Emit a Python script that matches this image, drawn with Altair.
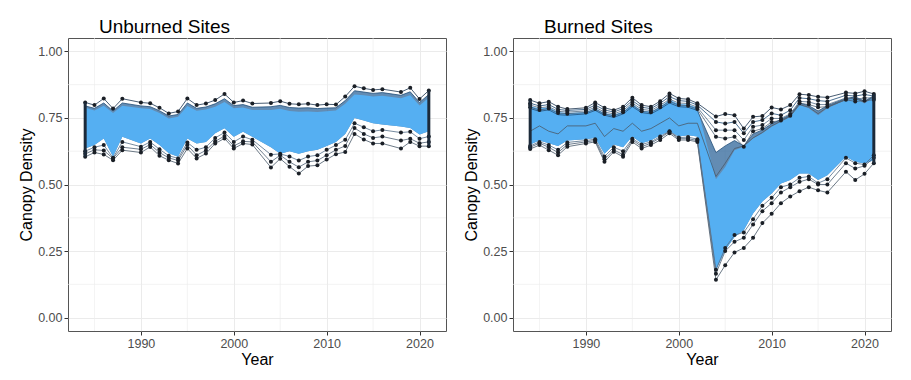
import altair as alt
import pandas as pd

# ---------------- data ----------------
years = [1984, 1985, 1986, 1987, 1988, 1990, 1991, 1992, 1993, 1994, 1995, 1996,
         1997, 1998, 1999, 2000, 2001, 2002, 2004, 2005, 2006, 2007, 2008, 2009,
         2010, 2011, 2012, 2013, 2014, 2015, 2016, 2018, 2019, 2020, 2021]

# Unburned sites
u_top = [0.808, 0.798, 0.823, 0.785, 0.822, 0.808, 0.805, 0.788, 0.767, 0.774, 0.823, 0.798,
         0.804, 0.817, 0.840, 0.808, 0.815, 0.804, 0.806, 0.813, 0.803, 0.801, 0.803, 0.798,
         0.801, 0.800, 0.830, 0.869, 0.861, 0.855, 0.858, 0.847, 0.863, 0.821, 0.853]
u_nav = [0.795, 0.786, 0.806, 0.776, 0.806, 0.795, 0.792, 0.777, 0.757, 0.763, 0.806, 0.786,
         0.791, 0.803, 0.822, 0.796, 0.800, 0.790, 0.792, 0.797, 0.789, 0.787, 0.788, 0.785,
         0.787, 0.788, 0.815, 0.852, 0.847, 0.842, 0.845, 0.835, 0.848, 0.808, 0.838]
u_band_hi = [0.788, 0.778, 0.796, 0.768, 0.796, 0.786, 0.783, 0.768, 0.748, 0.754, 0.795, 0.777,
             0.782, 0.792, 0.810, 0.786, 0.789, 0.780, 0.780, 0.784, 0.776, 0.773, 0.774, 0.772,
             0.775, 0.778, 0.803, 0.838, 0.835, 0.830, 0.833, 0.824, 0.835, 0.797, 0.826]
u_band_lo = [0.635, 0.648, 0.673, 0.604, 0.679, 0.654, 0.673, 0.648, 0.617, 0.604, 0.673, 0.654,
             0.660, 0.692, 0.711, 0.679, 0.698, 0.679, 0.640, 0.615, 0.625, 0.615, 0.625, 0.630,
             0.645, 0.660, 0.690, 0.750, 0.740, 0.730, 0.725, 0.718, 0.712, 0.688, 0.700]
u_low1 = [0.604, 0.620, 0.613, 0.591, 0.629, 0.620, 0.641, 0.608, 0.591, 0.579, 0.635, 0.598,
          0.616, 0.654, 0.673, 0.635, 0.654, 0.650, 0.564, 0.597, 0.567, 0.541, 0.569, 0.572,
          0.594, 0.614, 0.622, 0.690, 0.669, 0.654, 0.654, 0.635, 0.660, 0.644, 0.644]
u_low2 = [0.615, 0.630, 0.628, 0.598, 0.640, 0.632, 0.650, 0.620, 0.600, 0.590, 0.648, 0.610,
          0.628, 0.662, 0.682, 0.645, 0.662, 0.660, 0.585, 0.610, 0.585, 0.565, 0.585, 0.590,
          0.610, 0.630, 0.645, 0.712, 0.690, 0.675, 0.680, 0.665, 0.672, 0.655, 0.660]
u_low3 = [0.625, 0.640, 0.648, 0.600, 0.660, 0.642, 0.660, 0.632, 0.608, 0.598, 0.658, 0.630,
          0.640, 0.675, 0.695, 0.660, 0.680, 0.668, 0.612, 0.615, 0.605, 0.590, 0.605, 0.610,
          0.630, 0.648, 0.668, 0.730, 0.715, 0.700, 0.705, 0.695, 0.698, 0.672, 0.680]

# Burned sites
b_top = [0.817, 0.805, 0.811, 0.792, 0.783, 0.788, 0.808, 0.788, 0.779, 0.792, 0.826, 0.798,
         0.792, 0.813, 0.842, 0.823, 0.820, 0.805, 0.755, 0.765, 0.760, 0.710, 0.754, 0.757,
         0.789, 0.782, 0.798, 0.839, 0.836, 0.829, 0.827, 0.845, 0.842, 0.850, 0.840]
b_hi2 = [0.805, 0.795, 0.800, 0.782, 0.778, 0.782, 0.798, 0.780, 0.772, 0.785, 0.815, 0.790,
         0.785, 0.805, 0.830, 0.815, 0.812, 0.798, 0.735, 0.729, 0.735, 0.692, 0.735, 0.742,
         0.767, 0.760, 0.779, 0.825, 0.822, 0.815, 0.812, 0.835, 0.832, 0.838, 0.832]
b_hi3 = [0.798, 0.788, 0.792, 0.775, 0.772, 0.776, 0.790, 0.772, 0.765, 0.778, 0.806, 0.782,
         0.778, 0.797, 0.820, 0.806, 0.804, 0.790, 0.704, 0.704, 0.704, 0.667, 0.717, 0.723,
         0.748, 0.748, 0.765, 0.812, 0.810, 0.800, 0.800, 0.825, 0.820, 0.825, 0.825]
b_hi4 = [0.790, 0.780, 0.785, 0.768, 0.766, 0.770, 0.783, 0.765, 0.758, 0.771, 0.798, 0.775,
         0.771, 0.790, 0.812, 0.798, 0.796, 0.783, 0.679, 0.673, 0.679, 0.642, 0.700, 0.710,
         0.735, 0.740, 0.758, 0.805, 0.800, 0.790, 0.792, 0.818, 0.812, 0.815, 0.818]
b_nav = [0.785, 0.775, 0.780, 0.762, 0.760, 0.765, 0.778, 0.760, 0.752, 0.765, 0.792, 0.770,
         0.765, 0.784, 0.806, 0.792, 0.790, 0.778, 0.620, 0.645, 0.665, 0.645, 0.690, 0.705,
         0.728, 0.744, 0.762, 0.806, 0.796, 0.776, 0.796, 0.823, 0.829, 0.813, 0.833]
b_nav2 = [0.700, 0.720, 0.700, 0.690, 0.720, 0.720, 0.730, 0.680, 0.710, 0.700, 0.730, 0.700,
          0.710, 0.730, 0.750, 0.720, 0.730, 0.730, 0.530, 0.580, 0.635, 0.645, 0.675, 0.695,
          0.720, 0.738, 0.756, 0.800, 0.790, 0.766, 0.790, 0.820, 0.826, 0.808, 0.830]
b_band_hi = [0.795, 0.785, 0.790, 0.772, 0.768, 0.772, 0.786, 0.768, 0.762, 0.774, 0.802, 0.778,
             0.774, 0.792, 0.818, 0.802, 0.800, 0.788, 0.520, 0.566, 0.629, 0.642, 0.673, 0.692,
             0.717, 0.735, 0.754, 0.798, 0.786, 0.760, 0.786, 0.817, 0.823, 0.804, 0.829]
b_band_lo = [0.650, 0.665, 0.655, 0.645, 0.665, 0.670, 0.675, 0.615, 0.650, 0.640, 0.680, 0.655,
             0.665, 0.685, 0.700, 0.680, 0.685, 0.680, 0.178, 0.253, 0.303, 0.328, 0.391, 0.436,
             0.466, 0.504, 0.517, 0.541, 0.541, 0.517, 0.535, 0.604, 0.585, 0.579, 0.591]
b_low1 = [0.633, 0.648, 0.629, 0.610, 0.642, 0.654, 0.660, 0.585, 0.623, 0.604, 0.660, 0.635,
          0.648, 0.667, 0.692, 0.667, 0.667, 0.660, 0.142, 0.197, 0.245, 0.262, 0.300, 0.355,
          0.390, 0.430, 0.455, 0.475, 0.490, 0.478, 0.470, 0.548, 0.517, 0.540, 0.580]
b_low2 = [0.640, 0.655, 0.640, 0.620, 0.650, 0.660, 0.665, 0.595, 0.630, 0.612, 0.668, 0.642,
          0.655, 0.675, 0.698, 0.672, 0.672, 0.665, 0.165, 0.250, 0.285, 0.300, 0.350, 0.400,
          0.430, 0.470, 0.490, 0.510, 0.520, 0.500, 0.500, 0.580, 0.560, 0.570, 0.600]
b_low3 = [0.645, 0.660, 0.648, 0.630, 0.658, 0.665, 0.670, 0.605, 0.640, 0.625, 0.672, 0.650,
          0.660, 0.680, 0.700, 0.676, 0.678, 0.670, 0.180, 0.262, 0.310, 0.320, 0.370, 0.420,
          0.450, 0.490, 0.500, 0.525, 0.530, 0.505, 0.520, 0.600, 0.580, 0.575, 0.610]

x_major = [1990, 2000, 2010, 2020]
x_minor = [1985, 1995, 2005, 2015]
y_major = [0.0, 0.25, 0.50, 0.75, 1.00]
y_minor = [0.125, 0.375, 0.625, 0.875]

# ---------------- styling ----------------
FONT = "Liberation Sans"
BAND = "#55AFF2"
FRINGE = "#2F6699"
GRID = "#EBEBEB"

xs = alt.Scale(domain=[1982.15, 2022.85], nice=False, zero=False)
ys = alt.Scale(domain=[-0.05, 1.05], nice=False, zero=False)
xa = alt.Axis(values=x_major, format="d", title="Year", grid=True, titlePadding=2)
ya = alt.Axis(values=y_major, format=".2f", title="Canopy Density", grid=True, titlePadding=3)


def X(field):
    return alt.X(field, scale=xs, axis=xa)


def Y(field):
    return alt.Y(field, scale=ys, axis=ya)


def panel(title, top, nav, band_hi, band_lo, line_specs, point_names, edge_lo):
    band_df = pd.DataFrame({"year": years, "hi": band_hi, "lo": band_lo, "nav": nav})
    rows = []
    for name, vals, _c in line_specs:
        for yr, v in zip(years, vals):
            rows.append({"year": yr, "value": v, "series": name})
    long_df = pd.DataFrame(rows)
    pts_df = long_df[long_df["series"].isin(point_names)]
    ends_df = pd.DataFrame({
        "year": [years[0], years[-1]],
        "lo": [edge_lo[0], edge_lo[-1]],
        "hi": [top[0], top[-1]],
    })

    gx = alt.Chart(pd.DataFrame({"year": x_minor})).mark_rule(
        color=GRID, strokeWidth=0.6).encode(x=X("year:Q"))
    gy = alt.Chart(pd.DataFrame({"lo": y_minor})).mark_rule(
        color=GRID, strokeWidth=0.6).encode(y=Y("lo:Q"))

    fringe = alt.Chart(band_df).mark_area(color=FRINGE, opacity=0.75).encode(
        x=X("year:Q"), y=Y("lo:Q"), y2="nav:Q")
    area = alt.Chart(band_df).mark_area(color=BAND, opacity=1).encode(
        x=X("year:Q"), y=Y("lo:Q"), y2="hi:Q")

    names = [s[0] for s in line_specs]
    cols = [s[2] for s in line_specs]
    lines = alt.Chart(long_df).mark_line(strokeWidth=0.9, opacity=0.9).encode(
        x=X("year:Q"),
        y=Y("value:Q"),
        detail="series:N",
        color=alt.Color("series:N", scale=alt.Scale(domain=names, range=cols), legend=None),
    )
    pts = alt.Chart(pts_df).mark_circle(size=16, color="#1A1F26", opacity=1).encode(
        x=X("year:Q"), y=Y("value:Q"))
    ends = alt.Chart(ends_df).mark_rule(strokeWidth=3, color="#1C2A3A").encode(
        x=X("year:Q"), y=Y("lo:Q"), y2="hi:Q")
    return alt.layer(gx, gy, fringe, area, lines, pts, ends).properties(
        width=378, height=293,
        title=alt.TitleParams(title, anchor="start", frame="group", dx=31, offset=-14,
                              baseline="alphabetic", fontSize=19, font=FONT,
                              fontWeight="normal", color="black"),
    )


left = panel(
    "Unburned Sites", u_top, u_nav, u_band_hi, u_band_lo,
    [("low1", u_low1, "#4A5A6B"), ("low2", u_low2, "#4F6275"), ("low3", u_low3, "#56708A"),
     ("nav", u_nav, "#24507A"), ("top", u_top, "#1C3550")],
    ["low1", "low2", "low3", "top"], u_low1,
)
right = panel(
    "Burned Sites", b_top, b_nav, b_band_hi, b_band_lo,
    [("low1", b_low1, "#4A5A6B"), ("low2", b_low2, "#4F6275"), ("low3", b_low3, "#56708A"),
     ("nav2", b_nav2, "#4A8CC8"), ("nav", b_nav, "#24507A"),
     ("hi4", b_hi4, "#44586C"), ("hi3", b_hi3, "#3A4F63"), ("hi2", b_hi2, "#33475B"),
     ("top", b_top, "#1C3550")],
    ["low1", "low2", "low3", "hi4", "hi3", "hi2", "top"], b_low1,
)

chart = alt.hconcat(left, right, spacing=16).properties(
    padding={"left": 10, "top": 9, "right": 5, "bottom": 5},
    background="white",
).configure_view(
    stroke="#555555", strokeWidth=1,
).configure_axis(
    labelFont=FONT, labelFontSize=12.5, labelColor="#4D4D4D", labelPadding=2,
    titleFont=FONT, titleFontSize=16, titleColor="black", titleFontWeight="normal",
    tickColor="#333333", tickSize=4, domain=False, gridColor=GRID, gridWidth=1,
)

chart.save("out.html", embed_options={"renderer": "svg", "actions": False})
